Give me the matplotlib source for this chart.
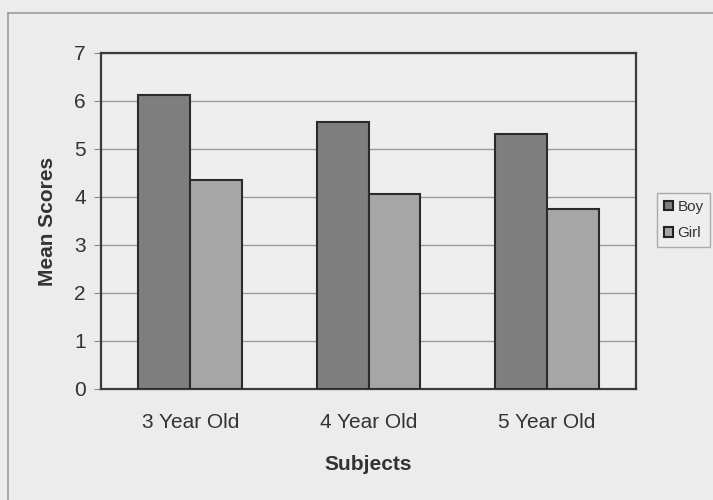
import numpy as np
import matplotlib
matplotlib.use('Agg')
import matplotlib.pyplot as plt
from matplotlib.patches import Patch
from matplotlib.lines import Line2D

plt.rcParams['font.family'] = ['Liberation Sans', 'DejaVu Sans']

groups = ['3 Year Old', '4 Year Old', '5 Year Old']
boy = [6.12, 5.57, 5.31]
girl = [4.36, 4.06, 3.76]
yticks = [0, 1, 2, 3, 4, 5, 6, 7]

bg = '#ececec'
fig = plt.figure(figsize=(7.13, 5.0), dpi=100, facecolor=bg)
ax = fig.add_axes([0.1417, 0.222, 0.7503, 0.672])
ax.set_facecolor('#eeeeee')

x = np.arange(len(groups))
w = 0.29
ax.bar(x - w/2, boy, w, color='#7f7f7f', edgecolor='#2b2b2b', linewidth=1.5, zorder=3)
ax.bar(x + w/2, girl, w, color='#a6a6a6', edgecolor='#2b2b2b', linewidth=1.5, zorder=3)

ax.set_xlim(-0.5, 2.5)
ax.set_ylim(0, 7)
ax.set_yticks(yticks)
ax.set_xticks(x)
ax.set_xticklabels(groups, fontsize=15, color='#333333')
ax.tick_params(axis='y', labelsize=15, labelcolor='#333333', length=5, color='#888888', pad=6)
ax.tick_params(axis='x', length=0, pad=17)
ax.yaxis.grid(True, color='#9a9a9a', linewidth=1, zorder=0)
for s in ax.spines.values():
    s.set_color('#3a3a3a')
    s.set_linewidth(1.6)

ax.set_ylabel('Mean Scores', fontsize=15, fontweight='bold', color='#333333', labelpad=12)
ax.set_xlabel('Subjects', fontsize=15, fontweight='bold', color='#333333', labelpad=17)

handles = [Patch(facecolor='#7f7f7f', edgecolor='#222222', linewidth=1.5),
           Patch(facecolor='#a6a6a6', edgecolor='#222222', linewidth=1.5)]
leg = fig.legend(handles, ['Boy', 'Girl'], loc='upper left',
                 bbox_to_anchor=(0.921, 0.614), borderaxespad=0, fontsize=11,
                 handlelength=0.6, handleheight=0.6, handletextpad=0.3,
                 labelspacing=0.8, borderpad=0.45, frameon=True, fancybox=False,
                 labelcolor='#333333')
leg.get_frame().set_edgecolor('#9a9a9a')
leg.get_frame().set_facecolor('#efefef')
leg.get_frame().set_linewidth(1)

# outer chart border (only top and left visible)
fig.add_artist(Line2D([8/713, 8/713], [0, 0.974], color='#9c9c9c', linewidth=1.2))
fig.add_artist(Line2D([8/713, 1], [0.974, 0.974], color='#9c9c9c', linewidth=1.2))

fig.savefig('out.png', dpi=100, facecolor=bg)
